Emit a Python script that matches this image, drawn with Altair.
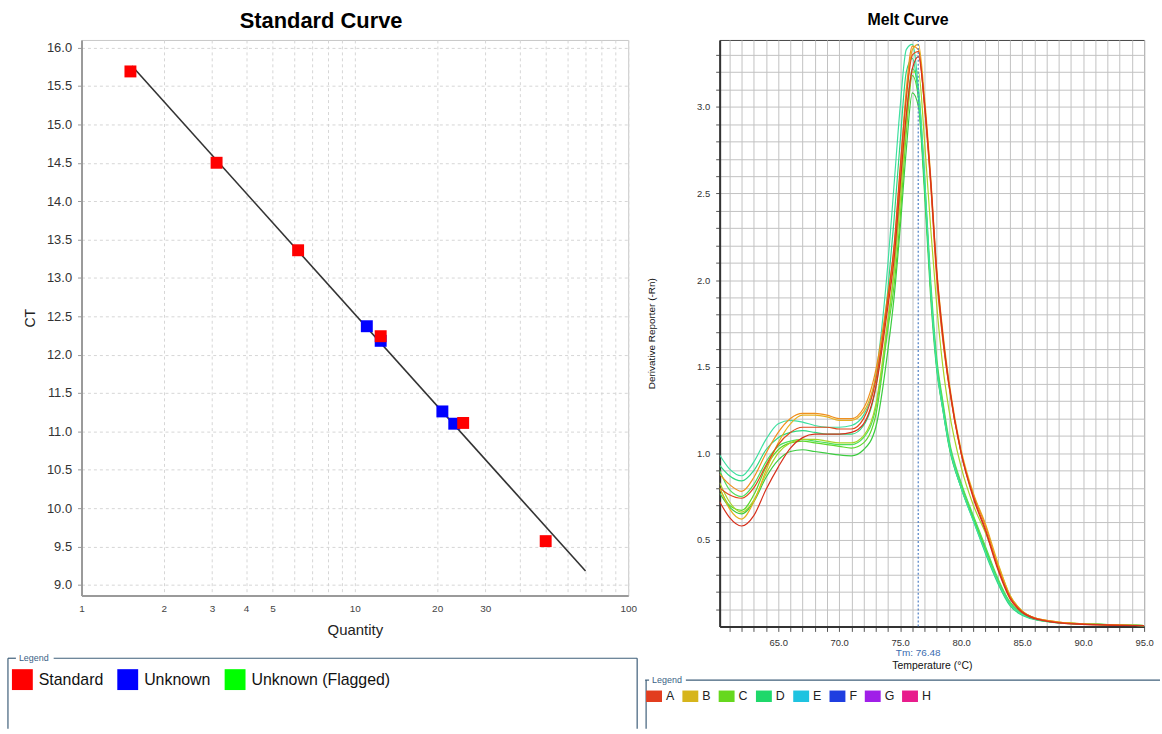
import altair as alt
import pandas as pd

# ---------------- Standard curve data ----------------
std_qty = [1.51, 3.12, 6.2, 12.43, 24.9, 49.9]
std_ct = [15.69, 14.50, 13.36, 12.24, 11.11, 9.57]
unk_qty = [11.06, 12.43, 20.9, 23.1]
unk_ct = [12.37, 12.18, 11.26, 11.10]
fit_qty = [1.53, 69.8]
fit_ct = [15.76, 9.18]
sample_types = ["Standard", "Unknown", "Unknown (Flagged)"]
type_colors = ["#ff0000", "#0000ff", "#00ff00"]
x_grid_vals = [1, 2, 3, 4, 5, 6, 7, 8, 9, 10, 20, 30, 40, 50, 60, 70, 80, 90, 100]
x_label_vals = [1, 2, 3, 4, 5, 10, 20, 30, 100]
y_tick_vals = [9.0, 9.5, 10.0, 10.5, 11.0, 11.5, 12.0, 12.5, 13.0, 13.5, 14.0, 14.5, 15.0, 15.5, 16.0]

# ---------------- Melt curve data ----------------
melt_temp = [60.2, 61, 62, 63, 64, 65, 66, 67, 68, 69, 70, 71, 72, 73, 74, 74.5, 75, 75.5, 76,
             76.5, 77, 77.5, 78, 78.5, 79, 80, 81, 82, 83, 84, 85, 86, 87, 88, 90, 92, 95]
curve_c1 = [0.72, 0.63, 0.58, 0.64, 0.79, 0.92, 1.03, 1.09, 1.11, 1.11, 1.11, 1.12, 1.17, 1.38, 1.85, 2.12, 2.55, 2.95, 3.22,
            3.29, 3.02, 2.58, 2.05, 1.68, 1.40, 1.00, 0.74, 0.55, 0.33, 0.16, 0.08, 0.045, 0.03, 0.02, 0.012, 0.008, 0.004]
curve_c2 = [0.80, 0.76, 0.74, 0.80, 0.93, 1.05, 1.12, 1.15, 1.15, 1.15, 1.14, 1.14, 1.20, 1.42, 1.90, 2.20, 2.65, 3.05, 3.30,
            3.32, 3.00, 2.56, 2.03, 1.66, 1.39, 1.00, 0.75, 0.56, 0.34, 0.17, 0.085, 0.05, 0.032, 0.022, 0.013, 0.008, 0.004]
curve_c3 = [0.88, 0.82, 0.78, 0.86, 1.00, 1.12, 1.20, 1.23, 1.23, 1.22, 1.20, 1.20, 1.26, 1.48, 1.92, 2.18, 2.63, 3.10, 3.35,
            3.33, 3.00, 2.55, 2.00, 1.65, 1.39, 1.00, 0.76, 0.58, 0.35, 0.17, 0.085, 0.05, 0.035, 0.025, 0.015, 0.01, 0.005]
curve_c4 = [0.80, 0.68, 0.62, 0.72, 0.90, 1.06, 1.17, 1.22, 1.22, 1.21, 1.19, 1.19, 1.24, 1.44, 1.88, 2.15, 2.58, 3.05, 3.33,
            3.36, 3.05, 2.60, 2.06, 1.70, 1.42, 1.02, 0.77, 0.59, 0.37, 0.18, 0.09, 0.05, 0.035, 0.025, 0.015, 0.01, 0.005]
curve_c5 = [0.83, 0.72, 0.66, 0.73, 0.88, 1.00, 1.06, 1.08, 1.08, 1.07, 1.06, 1.06, 1.10, 1.28, 1.78, 2.05, 2.45, 2.90, 3.20,
            3.20, 2.80, 2.30, 1.85, 1.50, 1.25, 0.92, 0.70, 0.54, 0.36, 0.18, 0.09, 0.05, 0.033, 0.024, 0.015, 0.01, 0.005]
curve_c6 = [0.80, 0.70, 0.67, 0.76, 0.92, 1.02, 1.06, 1.07, 1.06, 1.05, 1.04, 1.03, 1.06, 1.22, 1.72, 1.97, 2.36, 2.85, 3.18,
            3.05, 2.55, 1.95, 1.52, 1.28, 1.06, 0.82, 0.63, 0.45, 0.27, 0.14, 0.075, 0.045, 0.03, 0.022, 0.015, 0.01, 0.005]
curve_c7 = [0.77, 0.69, 0.65, 0.72, 0.86, 0.96, 1.01, 1.02, 1.01, 1.00, 0.99, 0.985, 1.02, 1.15, 1.60, 1.90, 2.30, 2.75, 3.08,
            3.00, 2.50, 1.90, 1.48, 1.25, 1.04, 0.80, 0.62, 0.44, 0.26, 0.13, 0.07, 0.042, 0.03, 0.022, 0.015, 0.01, 0.005]
curve_c8 = [0.90, 0.79, 0.75, 0.82, 0.95, 1.04, 1.07, 1.08, 1.07, 1.06, 1.05, 1.05, 1.09, 1.26, 1.75, 2.05, 2.50, 2.95, 3.22,
            3.10, 2.60, 2.00, 1.55, 1.30, 1.08, 0.83, 0.64, 0.46, 0.28, 0.14, 0.075, 0.045, 0.03, 0.022, 0.015, 0.01, 0.005]
curve_c9 = [0.99, 0.91, 0.87, 0.95, 1.08, 1.17, 1.19, 1.18, 1.16, 1.15, 1.15, 1.16, 1.22, 1.45, 2.10, 2.55, 3.00, 3.33, 3.36,
            3.10, 2.60, 1.95, 1.50, 1.25, 1.05, 0.80, 0.61, 0.43, 0.26, 0.13, 0.07, 0.042, 0.03, 0.02, 0.014, 0.01, 0.005]
curve_c10 = [0.93, 0.87, 0.84, 0.90, 1.02, 1.09, 1.12, 1.13, 1.12, 1.11, 1.11, 1.11, 1.16, 1.38, 1.95, 2.35, 2.80, 3.20, 3.28,
             3.05, 2.55, 1.95, 1.50, 1.26, 1.05, 0.80, 0.61, 0.42, 0.25, 0.12, 0.065, 0.04, 0.028, 0.02, 0.014, 0.01, 0.005]
curve_ids = ["c7", "c6", "c8", "c5", "c10", "c9", "c4", "c3", "c2", "c1"]
curve_values = [curve_c7, curve_c6, curve_c8, curve_c5, curve_c10, curve_c9, curve_c4, curve_c3, curve_c2, curve_c1]
curve_colors = ["#3ccc40", "#5cd82a", "#4ee05a", "#a8d428", "#2ed880", "#3ee0a0", "#e6b020", "#f0901e", "#e04a1c", "#d8301c"]
wells = ["A", "B", "C", "D", "E", "F", "G", "H"]
well_colors = ["#e23d1f", "#d6b51c", "#66d81e", "#1fd86a", "#1fc3e0", "#1f3ee0", "#a01fe8", "#e81c8c"]
tm_value = 76.48
melt_x_ticks = list(range(61, 96))
melt_y_ticks = [round(0.1 * i, 1) for i in range(1, 34)]

FONT = "Liberation Sans"

# ---------------- frames ----------------
one = pd.DataFrame({"k": [0]})


def hline(x1, x2, y, color="#3f5f7a"):
    return alt.Chart(one).mark_rule(color=color, strokeWidth=1.2).encode(
        x=alt.value(x1), x2=alt.value(x2), y=alt.value(y))


def vline(x, y1, y2, color="#3f5f7a"):
    return alt.Chart(one).mark_rule(color=color, strokeWidth=1.2).encode(
        x=alt.value(x), y=alt.value(y1), y2=alt.value(y2))


def label(x, y, txt):
    return alt.Chart(one).mark_text(align="left", baseline="middle", fontSize=9, font=FONT,
                                    color="#3a5f85").encode(x=alt.value(x), y=alt.value(y), text=alt.value(txt))


# ---------------- Left chart ----------------
W1, H1 = 550, 559
pts = pd.DataFrame({
    "qty": unk_qty + std_qty,
    "ct": unk_ct + std_ct,
    "type": ["Unknown"] * len(unk_qty) + ["Standard"] * len(std_qty),
})
fit = pd.DataFrame({"qty": fit_qty, "ct": fit_ct})

xs = alt.Scale(type="log", domain=[1, 100], nice=False)
ys = alt.Scale(domain=[8.86, 16.1], nice=False, zero=False)
lbl_arr = "[" + ",".join(str(v) for v in x_label_vals) + "]"

x_axis1 = alt.Axis(values=x_grid_vals, labelExpr=f"indexof({lbl_arr}, datum.value) >= 0 ? format(datum.value, 'd') : ''",
                   grid=True, gridDash=[3, 3], gridColor="#d6d6d6", ticks=False, labelPadding=8,
                   labelFontSize=10, labelColor="#444", labelFont=FONT, labelFlush=False, labelOverlap=False,
                   title="Quantity", titleFontSize=15, titleFontWeight="normal", titleFont=FONT, titleColor="#222",
                   titlePadding=9, domainColor="#9a9a9a", domainWidth=2)
y_axis1 = alt.Axis(values=y_tick_vals, format=".1f", grid=True, gridDash=[3, 3], gridColor="#d6d6d6",
                   tickSize=4, tickColor="#999", labelPadding=6, labelFontSize=13, labelColor="#333", labelFont=FONT,
                   labelOverlap=False, title="CT", titleFontSize=14, titleFontWeight="normal", titleFont=FONT,
                   titleColor="#222", titlePadding=9, domainColor="#9a9a9a", domainWidth=2)

fit_line = alt.Chart(fit).mark_line(color="#333333", strokeWidth=1.6).encode(
    x=alt.X("qty:Q", scale=xs, axis=x_axis1),
    y=alt.Y("ct:Q", scale=ys, axis=y_axis1),
)
points = alt.Chart(pts).mark_square(size=144, opacity=1).encode(
    x=alt.X("qty:Q", scale=xs, axis=x_axis1),
    y=alt.Y("ct:Q", scale=ys, axis=y_axis1),
    color=alt.Color("type:N", scale=alt.Scale(domain=sample_types, range=type_colors),
                    legend=alt.Legend(orient="none", legendX=-70, legendY=633, direction="horizontal", title=None,
                                      symbolType="square", symbolSize=441, symbolStrokeWidth=0, symbolOpacity=1,
                                      labelFontSize=16, labelFont=FONT, labelColor="#111", labelOffset=6,
                                      columnPadding=14, padding=0, columns=3)),
)

left = alt.layer(
    fit_line, points,
    hline(-74, -66, 622), hline(-28, 559, 622), vline(-74, 622, 693), vline(559, 622, 693),
    label(-63, 622, "Legend"),
).properties(
    width=W1, height=H1,
    title=alt.TitleParams("Standard Curve", fontSize=22, fontWeight="bold", font=FONT, color="#000",
                          anchor="middle", frame="group", dx=-34, offset=7),
    view=alt.ViewBackground(stroke="#c8c8c8", strokeWidth=1),
)

# ---------------- Right chart ----------------
W2, H2 = 427, 590
rows = []
for cid, vals in zip(curve_ids, curve_values):
    for t, v in zip(melt_temp, vals):
        rows.append({"curve": cid, "temp": t, "val": v})
melt = pd.DataFrame(rows)

x2s = alt.Scale(domain=[60.2, 95], nice=False, zero=False)
y2s = alt.Scale(domain=[0, 3.386], nice=False)

x_axis2 = alt.Axis(values=melt_x_ticks, labelExpr="datum.value % 5 === 0 ? format(datum.value, '.1f') : ''",
                   grid=True, gridColor="#c2c2c2", gridWidth=1, tickSize=5, tickColor="#555",
                   labelPadding=6, labelFontSize=9.5, labelColor="#333", labelFont=FONT, labelFlush=False,
                   labelOverlap=False, title="Temperature (°C)", titleFontSize=10.5, titleFontWeight="normal",
                   titleFont=FONT, titleColor="#111", titlePadding=14, domainColor="#333", domainWidth=2)
y_axis2 = alt.Axis(values=melt_y_ticks,
                   labelExpr="round(datum.value * 10) % 5 === 0 ? format(datum.value, '.1f') : ''",
                   grid=True, gridColor="#c2c2c2", gridWidth=1, tickSize=4, tickColor="#555",
                   labelPadding=6, labelFontSize=9.5, labelColor="#333", labelFont=FONT, labelOverlap=False,
                   title="Derivative Reporter (-Rn)", titleFontSize=10, titleFontWeight="normal", titleFont=FONT,
                   titleColor="#111", titlePadding=40, domainColor="#333", domainWidth=2)

lines = alt.Chart(melt).mark_line(strokeWidth=1.2, interpolate="monotone", clip=True).encode(
    x=alt.X("temp:Q", scale=x2s, axis=x_axis2),
    y=alt.Y("val:Q", scale=y2s, axis=y_axis2),
    stroke=alt.Stroke("curve:N", scale=alt.Scale(domain=curve_ids, range=curve_colors), legend=None),
    detail="curve:N",
)
tm_df = pd.DataFrame({"tm": [tm_value], "lbl": [f"Tm: {tm_value:.2f}"]})
tm_rule = alt.Chart(tm_df).mark_rule(color="#4f7fc4", strokeWidth=1.2, strokeDash=[2, 2]).encode(
    x=alt.X("tm:Q", scale=x2s, axis=x_axis2))
tm_text = alt.Chart(tm_df).mark_text(fontSize=10, font=FONT, color="#3b6cb0", baseline="middle").encode(
    x=alt.X("tm:Q", scale=x2s, axis=x_axis2), y=alt.value(H2 + 27), text="lbl:N")

well_df = pd.DataFrame({"well": wells})
well_legend = alt.Chart(well_df).mark_square(opacity=0, size=10).encode(
    x=alt.value(0), y=alt.value(0),
    fill=alt.Fill("well:N", scale=alt.Scale(domain=wells, range=well_colors),
                  legend=alt.Legend(orient="none", legendX=-74, legendY=652, direction="horizontal", title=None,
                                    symbolType="M-1,-0.72H1V0.72H-1Z", symbolSize=256, symbolStrokeWidth=0,
                                    symbolOpacity=1, labelFontSize=12.5, labelFont=FONT, labelColor="#222",
                                    labelOffset=4, columnPadding=7.5, padding=0, columns=8)),
)

right = alt.layer(
    lines, tm_rule, tm_text, well_legend,
    hline(-75, -71, 644), hline(-34, 443, 644), vline(-74, 644, 693),
    label(-68, 644, "Legend"),
).properties(
    width=W2, height=H2,
    title=alt.TitleParams("Melt Curve", fontSize=16, fontWeight="bold", font=FONT, color="#000",
                          anchor="middle", frame="group", dx=-24, offset=10),
    view=alt.ViewBackground(stroke="#444", strokeWidth=1),
)

chart = alt.hconcat(left, right, spacing=4).resolve_scale(
    color="independent", fill="independent", stroke="independent"
).properties(
    padding={"left": 6, "top": 7, "right": 0, "bottom": 0},
    background="white",
)

chart.save("out.html", embed_options={"renderer": "svg", "actions": False})
